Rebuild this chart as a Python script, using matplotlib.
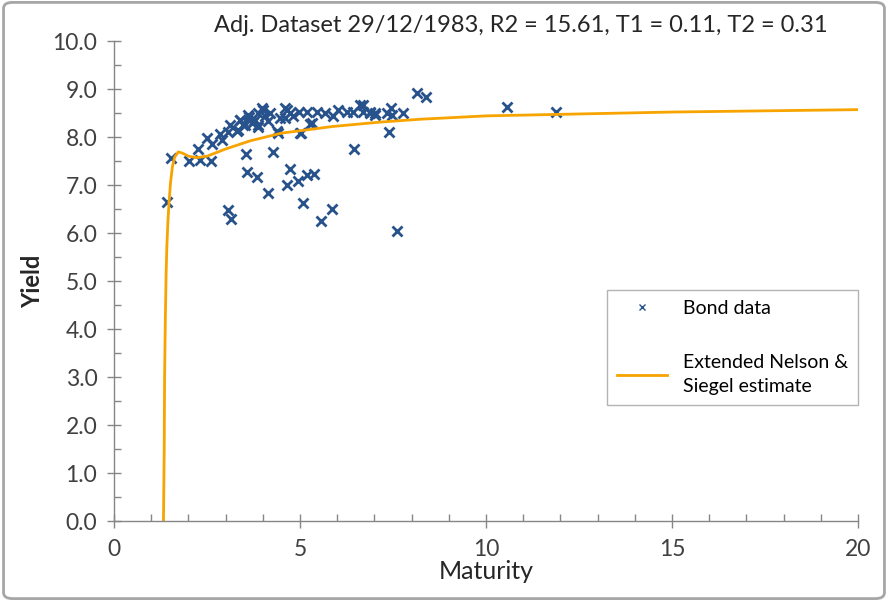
import numpy as np
import matplotlib
matplotlib.use("Agg")
import matplotlib.pyplot as plt
from matplotlib.patches import FancyBboxPatch
from matplotlib.ticker import MultipleLocator

plt.rcParams['font.family'] = ['Lato', 'DejaVu Sans']

# bond observations (maturity in years, yield in %)
bond_maturity = [
    1.43, 1.52, 2.02, 2.25, 2.31, 2.49, 2.60, 2.63, 2.85, 2.90,
    3.07, 3.07, 3.12, 3.15, 3.30, 3.34, 3.39, 3.39, 3.48, 3.52,
    3.54, 3.57, 3.61, 3.64, 3.70, 3.74, 3.79, 3.85, 3.86, 3.88,
    3.88, 3.97, 4.01, 4.06, 4.15, 4.15, 4.19, 4.27, 4.37, 4.40,
    4.46, 4.60, 4.60, 4.64, 4.66, 4.73, 4.73, 4.82, 4.94, 4.96,
    5.00, 5.04, 5.09, 5.18, 5.18, 5.27, 5.31, 5.38, 5.45, 5.56,
    5.67, 5.87, 5.90, 6.03, 6.25, 6.43, 6.45, 6.61, 6.70, 6.70,
    6.88, 6.88, 7.02, 7.02, 7.33, 7.40, 7.44, 7.47, 7.61, 7.76,
    8.15, 8.39, 10.56, 11.88,
]
bond_yield = [
    6.65, 7.57, 7.51, 7.76, 7.52, 7.97, 7.50, 7.85, 8.06, 7.94,
    6.48, 8.11, 8.26, 6.29, 8.12, 8.15, 8.35, 8.36, 8.26, 8.25,
    7.64, 7.28, 8.46, 8.42, 8.29, 8.32, 8.36, 7.17, 8.25, 8.21,
    8.50, 8.60, 8.56, 8.43, 6.84, 8.33, 8.50, 7.69, 8.12, 8.08,
    8.40, 8.60, 8.40, 8.56, 6.99, 7.33, 8.50, 8.43, 7.09, 8.53,
    8.08, 8.08, 6.62, 7.21, 8.53, 8.28, 8.29, 7.23, 8.53, 6.25,
    8.50, 6.50, 8.43, 8.56, 8.53, 8.53, 7.76, 8.67, 8.53, 8.67,
    8.53, 8.49, 8.50, 8.46, 8.49, 8.11, 8.60, 8.46, 6.04, 8.49,
    8.91, 8.84, 8.62, 8.52,
]

# fitted extended Nelson & Siegel curve
curve_maturity = [1.33, 1.35, 1.36, 1.38, 1.40, 1.42, 1.45, 1.48, 1.52, 1.57,
                  1.63, 1.73, 1.85, 2.00, 2.22, 2.50, 3.00, 3.66, 4.50, 5.89,
                  7.15, 8.23, 10.0, 12.5, 15.0, 20.0]
curve_yield = [0.00, 1.50, 3.00, 4.20, 5.10, 5.70, 6.25, 6.65, 7.05, 7.38,
               7.58, 7.69, 7.66, 7.60, 7.57, 7.60, 7.75, 7.92, 8.08, 8.22,
               8.31, 8.37, 8.44, 8.48, 8.52, 8.57]

title = "Adj. Dataset 29/12/1983, R2 = 15.61, T1 = 0.11, T2 = 0.31"

grey = "#868686"
blue = "#28528C"
orange = "#F7A400"

fig = plt.figure(figsize=(8.88, 6.01), dpi=100)
ax = fig.add_axes([114 / 888, 80 / 601, 744 / 888, 480 / 601])

ax.plot(bond_maturity, bond_yield, linestyle="None", marker="x",
        markersize=6.5, markeredgewidth=2, color=blue, label="Bond data")
ax.plot(curve_maturity, curve_yield, color=orange, linewidth=2,
        label="Extended Nelson &\nSiegel estimate")

ax.set_xlim(0, 20)
ax.set_ylim(0, 10)
ax.xaxis.set_major_locator(MultipleLocator(5))
ax.xaxis.set_minor_locator(MultipleLocator(1))
ax.yaxis.set_major_locator(MultipleLocator(1))
ax.yaxis.set_minor_locator(MultipleLocator(0.5))
ax.yaxis.set_major_formatter(matplotlib.ticker.FormatStrFormatter("%.1f"))

for side in ("top", "right"):
    ax.spines[side].set_visible(False)
for side in ("left", "bottom"):
    ax.spines[side].set_color(grey)
    ax.spines[side].set_linewidth(1)

ax.tick_params(which="major", direction="inout", length=10, width=1,
               color=grey, labelsize=16.5, labelcolor="#404040")
ax.tick_params(which="minor", direction="in", length=5, width=1, color=grey)
ax.tick_params(axis="x", which="major", pad=8)
ax.tick_params(axis="y", which="major", pad=7)

ax.set_xlabel("Maturity", fontsize=18, color="#262626", labelpad=0)
ax.set_ylabel("Yield", fontsize=17, fontweight="bold", color="#262626",
              labelpad=6)

fig.text(521 / 888, 1 - 25 / 601, title, fontsize=17, color="#262626",
         ha="center", va="center")

leg = ax.legend(loc="upper left", bbox_to_anchor=((607 - 114) / 744, (521 - 290) / 480),
                borderaxespad=0, fontsize=14, frameon=True, fancybox=False,
                edgecolor="#A0A0A0", handlelength=2.6, labelspacing=1.9,
                borderpad=0.5)
leg.get_frame().set_linewidth(1)
leg.get_texts()[1].set_linespacing(1.55)
leg.legend_handles[0].set_markersize(5)
leg.legend_handles[0].set_markeredgewidth(1)

border = FancyBboxPatch((0.004, 0.004), 0.992, 0.992,
                        boxstyle="round,pad=0,rounding_size=0.01",
                        transform=fig.transFigure, facecolor="none",
                        edgecolor="#A6A6A6", linewidth=2)
fig.patches.append(border)

fig.savefig("out.png", dpi=100)
